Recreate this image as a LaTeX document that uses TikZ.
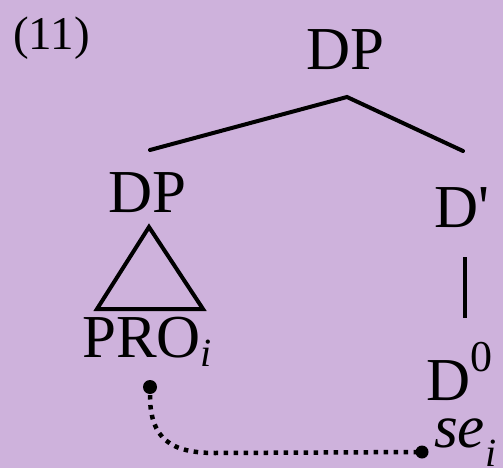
\documentclass[tikz,border=0pt]{standalone}
\usepackage{fontspec}
\setmainfont{Liberation Serif}
\newfontfamily\rawserif{Liberation Serif}[Ligatures=TeXOff]
\definecolor{bgpurple}{RGB}{206,178,220}
\newcommand\bigtxt{\fontsize{61}{70}\selectfont}
\newcommand\subtxt{\fontsize{40}{40}\selectfont}
\begin{document}
\begin{tikzpicture}[x=1pt,y=-1pt,
  lbl/.style={inner sep=0pt, font=\bigtxt},
  branch/.style={line width=4pt, line cap=round, line join=miter},
  linkdot/.style={circle, fill=black, inner sep=0pt, minimum size=14pt},
  link/.style={line width=4.5pt, dash pattern=on 4.5pt off 5.5pt}]
\fill[bgpurple] (0,0) rectangle (503,468);
\useasboundingbox (0,0) rectangle (503,468);
% labels
\node[lbl, anchor=base west, font=\fontsize{47}{50}\selectfont] (ex) at (13,50) {(11)};
\node[lbl, anchor=base] (dptop) at (345,70) {DP};
\node[lbl, anchor=base] (dpleft) at (147,212) {DP};
\node[lbl, anchor=base west] (dbar) at (434,227) {D{\rawserif'}};
\node[lbl, anchor=base west] (pro) at (82,357) {PRO\raisebox{-0.15em}{\subtxt\itshape i}};
\node[lbl, anchor=base west] (dzero) at (426,400) {D\raisebox{0.47em}{\fontsize{44}{44}\selectfont 0}};
\node[lbl, anchor=base west] (se) at (434,447) {\itshape se\raisebox{-0.32em}{\subtxt i}};
% tree geometry
\coordinate (apex) at (347,97);
\coordinate (lend) at (150,150);
\coordinate (rend) at (463,151);
\coordinate (tri) at (149,227);
\coordinate (tribl) at (97,309);
\coordinate (tribr) at (203,309);
\coordinate (vtop) at (465,257);
\coordinate (vbot) at (465,318);
\draw[branch] (lend) -- (apex) -- (rend);
\draw[branch] (tri) -- (tribl) -- (tribr) -- cycle;
\draw[branch, line cap=butt] (vtop) -- (vbot);
% binding link
\node[linkdot] (dpro) at (150,387) {};
\node[linkdot, minimum size=13pt] (dse) at (422,452) {};
\draw[link] (dpro.center) ++(0,8) -- (150,398) .. controls (151,438) and (170,453) .. (215,453) -- (dse.center);
\end{tikzpicture}
\end{document}
